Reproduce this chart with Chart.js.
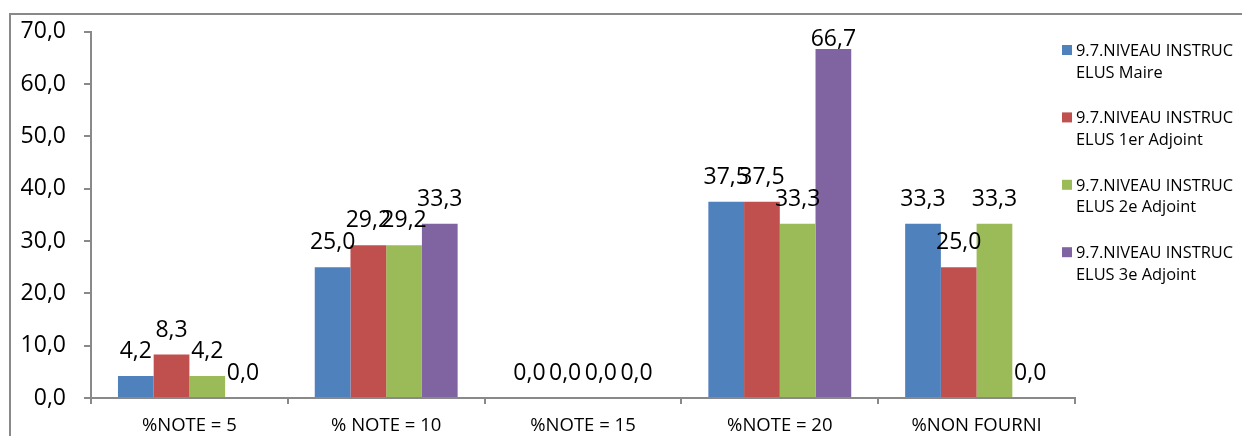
<!DOCTYPE html>
<html>
<head>
<meta charset="utf-8">
<script src="https://cdn.jsdelivr.net/npm/chart.js@4/dist/chart.umd.min.js"></script>
<style>
  html, body { margin: 0; padding: 0; background: #ffffff; }
  #wrap { width: 1242px; height: 436px; position: relative; }
</style>
</head>
<body>
<div id="wrap"><canvas id="chart" width="1242" height="436"></canvas></div>
<script>
// Categories and series (percentages)
const categories = ['%NOTE = 5', '% NOTE = 10', '%NOTE = 15', '%NOTE = 20', '%NON FOURNI'];
const seriesNames = [
  '9.7.NIVEAU INSTRUC ELUS Maire',
  '9.7.NIVEAU INSTRUC ELUS 1er Adjoint',
  '9.7.NIVEAU INSTRUC ELUS 2e Adjoint',
  '9.7.NIVEAU INSTRUC ELUS 3e Adjoint'
];
const maire      = [4.2, 25.0, 0.0, 37.5, 33.3];
const adjoint1   = [8.3, 29.2, 0.0, 37.5, 25.0];
const adjoint2   = [4.2, 29.2, 0.0, 33.3, 33.3];
const adjoint3   = [0.0, 33.3, 0.0, 66.7, 0.0];
const seriesColors = ['#4F81BD', '#C0504D', '#9BBB59', '#8064A2'];
const yTickValues = [0, 10, 20, 30, 40, 50, 60, 70];

const FONT = '"Open Sans", "DejaVu Sans", sans-serif';
const AXIS_GREY = '#898989';

const fmt = v => v.toFixed(1).replace('.', ',');

// White background and the outer chart frame
const framePlugin = {
  id: 'frame',
  beforeDraw(chart) {
    const ctx = chart.ctx;
    ctx.save();
    ctx.fillStyle = '#ffffff';
    ctx.fillRect(0, 0, chart.width, chart.height);
    ctx.strokeStyle = AXIS_GREY;
    ctx.lineWidth = 2;
    ctx.beginPath();
    ctx.moveTo(10, chart.height + 5);
    ctx.lineTo(10, 14);
    ctx.lineTo(chart.width + 5, 14);
    ctx.stroke();
    ctx.restore();
  }
};

// Value labels above each bar, kept inside the top of the plot
const valueLabelPlugin = {
  id: 'valueLabels',
  afterDatasetsDraw(chart) {
    const ctx = chart.ctx;
    const area = chart.chartArea;
    const cap = 16.5;
    ctx.save();
    ctx.font = '23px ' + FONT;
    ctx.fillStyle = '#000000';
    ctx.textAlign = 'center';
    ctx.textBaseline = 'alphabetic';
    chart.data.datasets.forEach((ds, di) => {
      const meta = chart.getDatasetMeta(di);
      meta.data.forEach((bar, i) => {
        let y = bar.y - 18;
        if (y - cap < area.top - 2) y = area.top - 2 + cap;
        ctx.fillText(fmt(ds.data[i]), bar.x, y);
      });
    });
    ctx.restore();
  }
};

// Legend on the right: colour square and wrapped series name
const sideLegendPlugin = {
  id: 'sideLegend',
  afterDraw(chart) {
    const ctx = chart.ctx;
    const x0 = 1062, textX = 1076, maxW = 165;
    const firstY = 45, step = 67.4, lineH = 21.5;
    ctx.save();
    ctx.font = '16.4px ' + FONT;
    ctx.textBaseline = 'alphabetic';
    ctx.textAlign = 'left';
    chart.data.datasets.forEach((ds, di) => {
      const top = firstY + di * step;
      ctx.fillStyle = ds.backgroundColor;
      ctx.fillRect(x0, top, 10, 10);
      // word wrap
      const words = ds.label.split(' ');
      const lines = [];
      let line = '';
      words.forEach(w => {
        const test = line ? line + ' ' + w : w;
        if (ctx.measureText(test).width > maxW && line) {
          lines.push(line);
          line = w;
        } else {
          line = test;
        }
      });
      if (line) lines.push(line);
      ctx.fillStyle = '#000000';
      lines.forEach((l, li) => ctx.fillText(l, textX, top + 11 + li * lineH));
    });
    ctx.restore();
  }
};

const seriesData = [maire, adjoint1, adjoint2, adjoint3];

new Chart(document.getElementById('chart'), {
  type: 'bar',
  data: {
    labels: categories,
    datasets: seriesNames.map((name, i) => ({
      label: name,
      data: seriesData[i],
      backgroundColor: seriesColors[i],
      borderWidth: 0,
      categoryPercentage: 0.726,
      barPercentage: 1.0
    }))
  },
  options: {
    responsive: false,
    animation: false,
    devicePixelRatio: 1,
    layout: { padding: { left: 0, right: 167, top: 31, bottom: 0 } },
    plugins: {
      legend: { display: false },
      tooltip: { enabled: false },
      title: { display: false }
    },
    scales: {
      x: {
        grid: {
          display: true,
          drawOnChartArea: false,
          drawTicks: true,
          tickLength: 6,
          color: AXIS_GREY,
          lineWidth: 2,
          offset: true
        },
        border: { display: true, color: AXIS_GREY, width: 2 },
        ticks: {
          color: '#000000',
          font: { family: FONT, size: 18.5 },
          padding: 11,
          maxRotation: 0,
          autoSkip: false
        },
        afterFit(scale) { scale.height = 38; }
      },
      y: {
        min: 0,
        max: 70,
        afterBuildTicks(scale) {
          scale.ticks = yTickValues.map(v => ({ value: v }));
        },
        grid: {
          display: true,
          drawOnChartArea: false,
          drawTicks: true,
          tickLength: 7,
          color: AXIS_GREY,
          lineWidth: 2
        },
        border: { display: true, color: AXIS_GREY, width: 2 },
        ticks: {
          color: '#000000',
          font: { family: FONT, size: 23 },
          padding: 18,
          callback: v => fmt(v)
        },
        afterFit(scale) { scale.width = 91; }
      }
    }
  },
  plugins: [framePlugin, valueLabelPlugin, sideLegendPlugin]
});
</script>
</body>
</html>
